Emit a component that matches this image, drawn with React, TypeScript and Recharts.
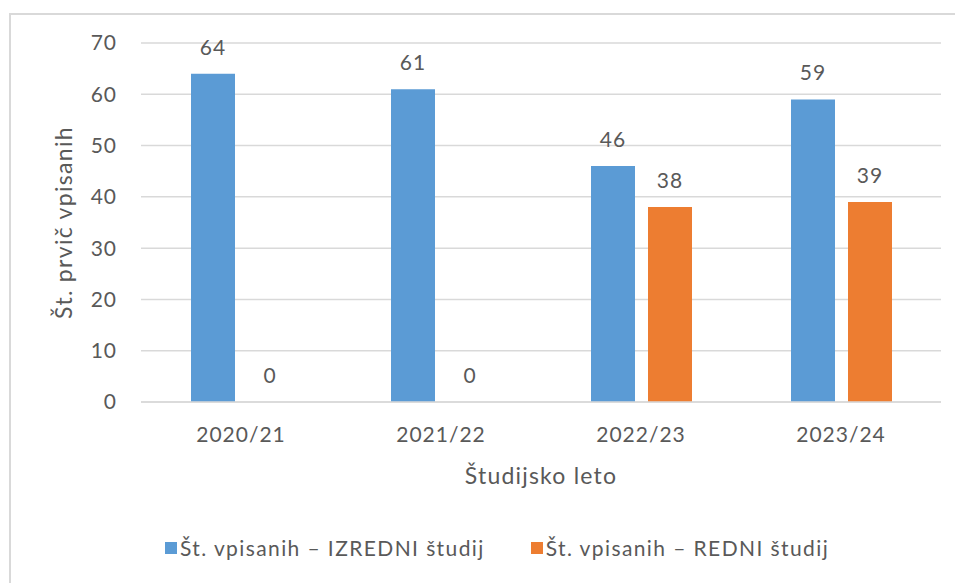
import { BarChart, Bar, XAxis, YAxis, CartesianGrid, LabelList, Legend } from "recharts";

const years = ["2020/21", "2021/22", "2022/23", "2023/24"];
const izredni = [64, 61, 46, 59];
const redni = [0, 0, 38, 39];
const yTicks = [0, 10, 20, 30, 40, 50, 60, 70];

const data = years.map((y, i) => ({ year: y, izredni: izredni[i], redni: redni[i] }));

const FONT = "Lato, 'Noto Sans', sans-serif";
const TEXT = "#595959";
const BLUE = "#5B9BD5";
const ORANGE = "#ED7D31";

const legendItems = [
  { label: "Št. vpisanih – IZREDNI študij", color: BLUE },
  { label: "Št. vpisanih – REDNI študij", color: ORANGE },
];

const tickStyle = { fontSize: 21, fill: TEXT, fontFamily: FONT, letterSpacing: 1 };

function LegendContent() {
  return (
    <div style={{ display: "flex", justifyContent: "flex-start", gap: 46, paddingLeft: 165 }}>
      {legendItems.map((it) => (
        <div key={it.label} style={{ display: "flex", alignItems: "center", gap: 3 }}>
          <span style={{ width: 12, height: 12, background: it.color, display: "inline-block" }} />
          <span style={{ fontFamily: FONT, fontSize: 21, color: TEXT, letterSpacing: 1.4 }}>{it.label}</span>
        </div>
      ))}
    </div>
  );
}

export default function App() {
  return (
    <div style={{ position: "absolute", left: 0, top: 0, width: 955, height: 583, overflow: "hidden", background: "#fff" }}>
      <div
        style={{
          position: "absolute",
          left: 9,
          top: 13,
          width: 1000,
          height: 700,
          border: "2px solid #d9d9d9",
          boxSizing: "border-box",
        }}
      />
      <div style={{ position: "absolute", left: 0, top: 0 }}>
        <BarChart
          width={955}
          height={583}
          data={data}
          margin={{ top: 43, right: 14, bottom: 0, left: 0 }}
          barCategoryGap="25%"
          barGap={13}
        >
          <CartesianGrid vertical={false} stroke="#d9d9d9" strokeWidth={1.5} />
          <XAxis
            dataKey="year"
            axisLine={{ stroke: "#d9d9d9", strokeWidth: 1.5 }}
            tickLine={false}
            tickMargin={19}
            height={60}
            tick={tickStyle}
            label={{
              value: "Študijsko leto",
              position: "bottom",
              offset: 6,
              style: { fontSize: 23, fill: TEXT, fontFamily: FONT, letterSpacing: 1.2 },
            }}
          />
          <YAxis
            width={141}
            domain={[0, 70]}
            ticks={yTicks}
            axisLine={false}
            tickLine={false}
            tickMargin={18}
            tick={tickStyle}
            label={{
              value: "Št. prvič vpisanih",
              angle: -90,
              position: "insideLeft",
              offset: 0,
              dx: 64,
              style: { textAnchor: "middle", fontSize: 23, fill: TEXT, fontFamily: FONT, letterSpacing: 1.3 },
            }}
          />
          <Legend verticalAlign="bottom" height={121} content={<LegendContent />} wrapperStyle={{ top: 535, left: 0 }} />
          <Bar dataKey="izredni" fill={BLUE} isAnimationActive={false}>
            <LabelList dataKey="izredni" position="top" offset={19} style={tickStyle} />
          </Bar>
          <Bar dataKey="redni" fill={ORANGE} minPointSize={0.01} isAnimationActive={false}>
            <LabelList dataKey="redni" position="top" offset={19} style={tickStyle} />
          </Bar>
        </BarChart>
      </div>
    </div>
  );
}
